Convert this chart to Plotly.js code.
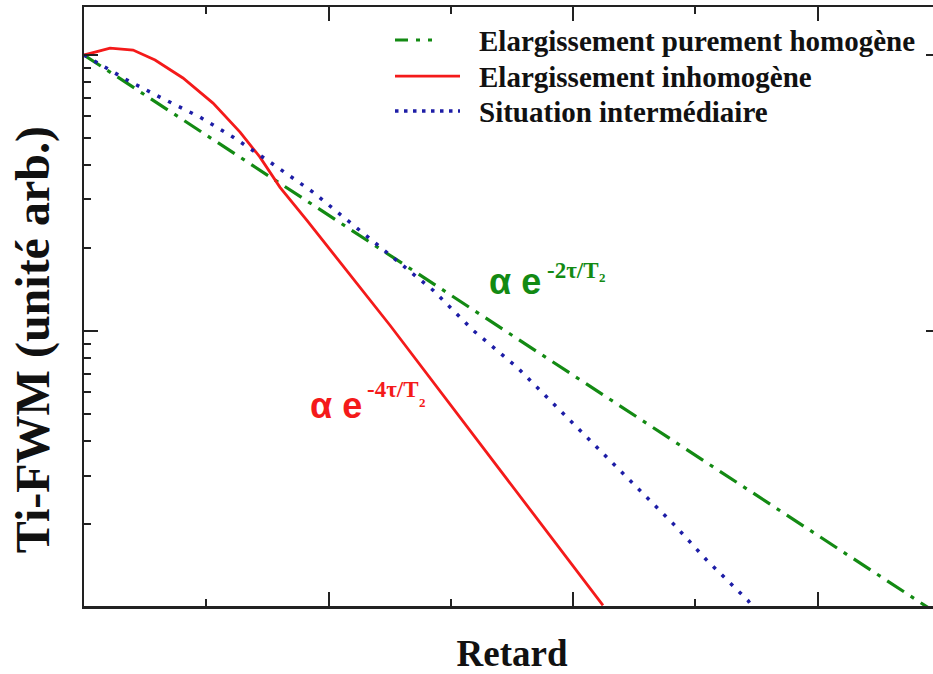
<!DOCTYPE html>
<html>
<head>
<meta charset="utf-8">
<script src="https://cdn.plot.ly/plotly-3.0.1.min.js"></script>
<style>
  html, body { margin: 0; padding: 0; overflow: hidden; background: #fff; }
  #chart { width: 945px; height: 674px; }
</style>
</head>
<body>
<div id="chart"></div>
<script>
// Retard (arbitrary units, axis 0..7) and Ti-FWM (arbitrary units, log scale)
const xHomogene = [0, 6.9];
const yHomogene = [10, 0.1];

const xInhomogene = [0, 0.213, 0.401, 0.581, 0.809, 1.055, 1.276, 1.439, 1.603, 1.823, 2.502, 4.244];
const yInhomogene = [10, 10.6, 10.43, 9.59, 8.26, 6.70, 5.26, 4.27, 3.32, 2.52, 1.051, 0.1017];

const xIntermediaire = [0, 0.352, 0.621, 0.948, 1.218, 1.496, 1.872, 2.502, 2.854, 3.181, 3.540, 3.868, 4.195, 4.489, 4.816, 5.094, 5.429, 5.462];
const yIntermediaire = [10, 8.12, 7.04, 5.96, 5.05, 4.17, 3.19, 1.885, 1.408, 1.008, 0.741, 0.530, 0.380, 0.281, 0.2014, 0.148, 0.106, 0.1009];

const seriesNames = ["Elargissement purement homogène", "Elargissement inhomogène", "Situation intermédiaire"];
const xTitle = "Retard";
const yTitle = "Ti-FWM (unité arb.)";

const serif = "Liberation Serif";
const sans = "Liberation Sans";
const cGreen = "#138a13";
const cRed = "#f41a1a";
const cBlue = "#1d1da6";
const seriesColors = [cGreen, cRed, cBlue];
const seriesDash = ["20px,8px,4px,8px", "solid", "3.5px,8.5px"];
const seriesWidth = [3.2, 2.8, 3.5];
const legendDash = ["13px,8px,4px,8px,4px,40px", "solid", "3.5px,5.5px"];

const traces = [
  { x: xHomogene, y: yHomogene, name: seriesNames[0], mode: "lines", showlegend: false,
    line: { color: seriesColors[0], width: seriesWidth[0], dash: seriesDash[0] } },
  { x: xInhomogene, y: yInhomogene, name: seriesNames[1], mode: "lines", showlegend: false,
    line: { color: seriesColors[1], width: seriesWidth[1], dash: seriesDash[1] } },
  { x: xIntermediaire, y: yIntermediaire, name: seriesNames[2], mode: "lines", showlegend: false,
    line: { color: seriesColors[2], width: seriesWidth[2], dash: seriesDash[2] } }
];

const L = 84, T = 7, PW = 856, PH = 598.7;
function px(xp) { return (xp - L) / PW; }
function py(yp) { return (T + PH - yp) / PH; }

function ann(text, xp, yp, size, color, family, extra) {
  return Object.assign({ text: text, xref: "paper", yref: "paper", x: px(xp), y: py(yp),
    xanchor: "left", yanchor: "middle", showarrow: false, borderpad: 0,
    font: { family: family, size: size, color: color, weight: "bold" } }, extra || {});
}

// legend (drawn as annotations + sample lines)
const legendRows = [40, 76, 111];
const shapes = [];
const annotations = [];
for (let i = 0; i < seriesNames.length; i++) {
  shapes.push({ type: "line", xref: "paper", yref: "paper",
    x0: px(395), x1: px(460), y0: py(legendRows[i]), y1: py(legendRows[i]),
    line: { color: seriesColors[i], width: seriesWidth[i], dash: legendDash[i] } });
  annotations.push(ann(seriesNames[i], 478, legendRows[i] + 1, 29, "#111", serif));
}

annotations.push(
  ann("α e", 488, 281, 36, cGreen, sans),
  ann("-2τ/T", 546, 270, 23, cGreen, serif),
  ann("2", 598, 277, 13, cGreen, serif),
  ann("α e", 309, 405, 36, cRed, sans),
  ann("-4τ/T", 366, 389, 23, cRed, serif),
  ann("2", 418, 402, 13, cRed, serif),
  { text: yTitle, xref: "paper", yref: "paper", x: px(33), y: py(340),
    xanchor: "center", yanchor: "middle", textangle: -90, showarrow: false, borderpad: 0,
    font: { family: serif, size: 48, color: "#111", weight: "bold" } }
);

const layout = {
  width: 945, height: 674,
  margin: { l: L, r: 945 - L - PW, t: T, b: 674 - T - PH },
  paper_bgcolor: "#fff", plot_bgcolor: "#fff",
  font: { family: serif, color: "#111" },
  showlegend: false,
  xaxis: {
    range: [0, 7], dtick: 2, tick0: 0, showticklabels: false,
    ticks: "inside", ticklen: 14, tickwidth: 2, tickcolor: "#222",
    minor: { dtick: 1, tick0: 0, ticks: "inside", ticklen: 7, tickwidth: 2, tickcolor: "#222", showgrid: false },
    showline: true, linecolor: "#222", linewidth: 2.5, mirror: "ticks",
    showgrid: false, zeroline: false,
    title: { text: xTitle, standoff: 38, font: { family: serif, size: 37, color: "#111", weight: "bold" } }
  },
  yaxis: {
    type: "log", range: [-0.995, 1.174], dtick: 1, showticklabels: false,
    ticks: "inside", ticklen: 14, tickwidth: 2, tickcolor: "#222",
    minor: { dtick: "D1", ticks: "inside", ticklen: 7, tickwidth: 2, tickcolor: "#222", showgrid: false },
    showline: true, linecolor: "#222", linewidth: 2.5, mirror: "ticks",
    showgrid: false, zeroline: false
  },
  shapes: shapes,
  annotations: annotations
};

Plotly.newPlot("chart", traces, layout, { displayModeBar: false, staticPlot: true });
</script>
</body>
</html>
